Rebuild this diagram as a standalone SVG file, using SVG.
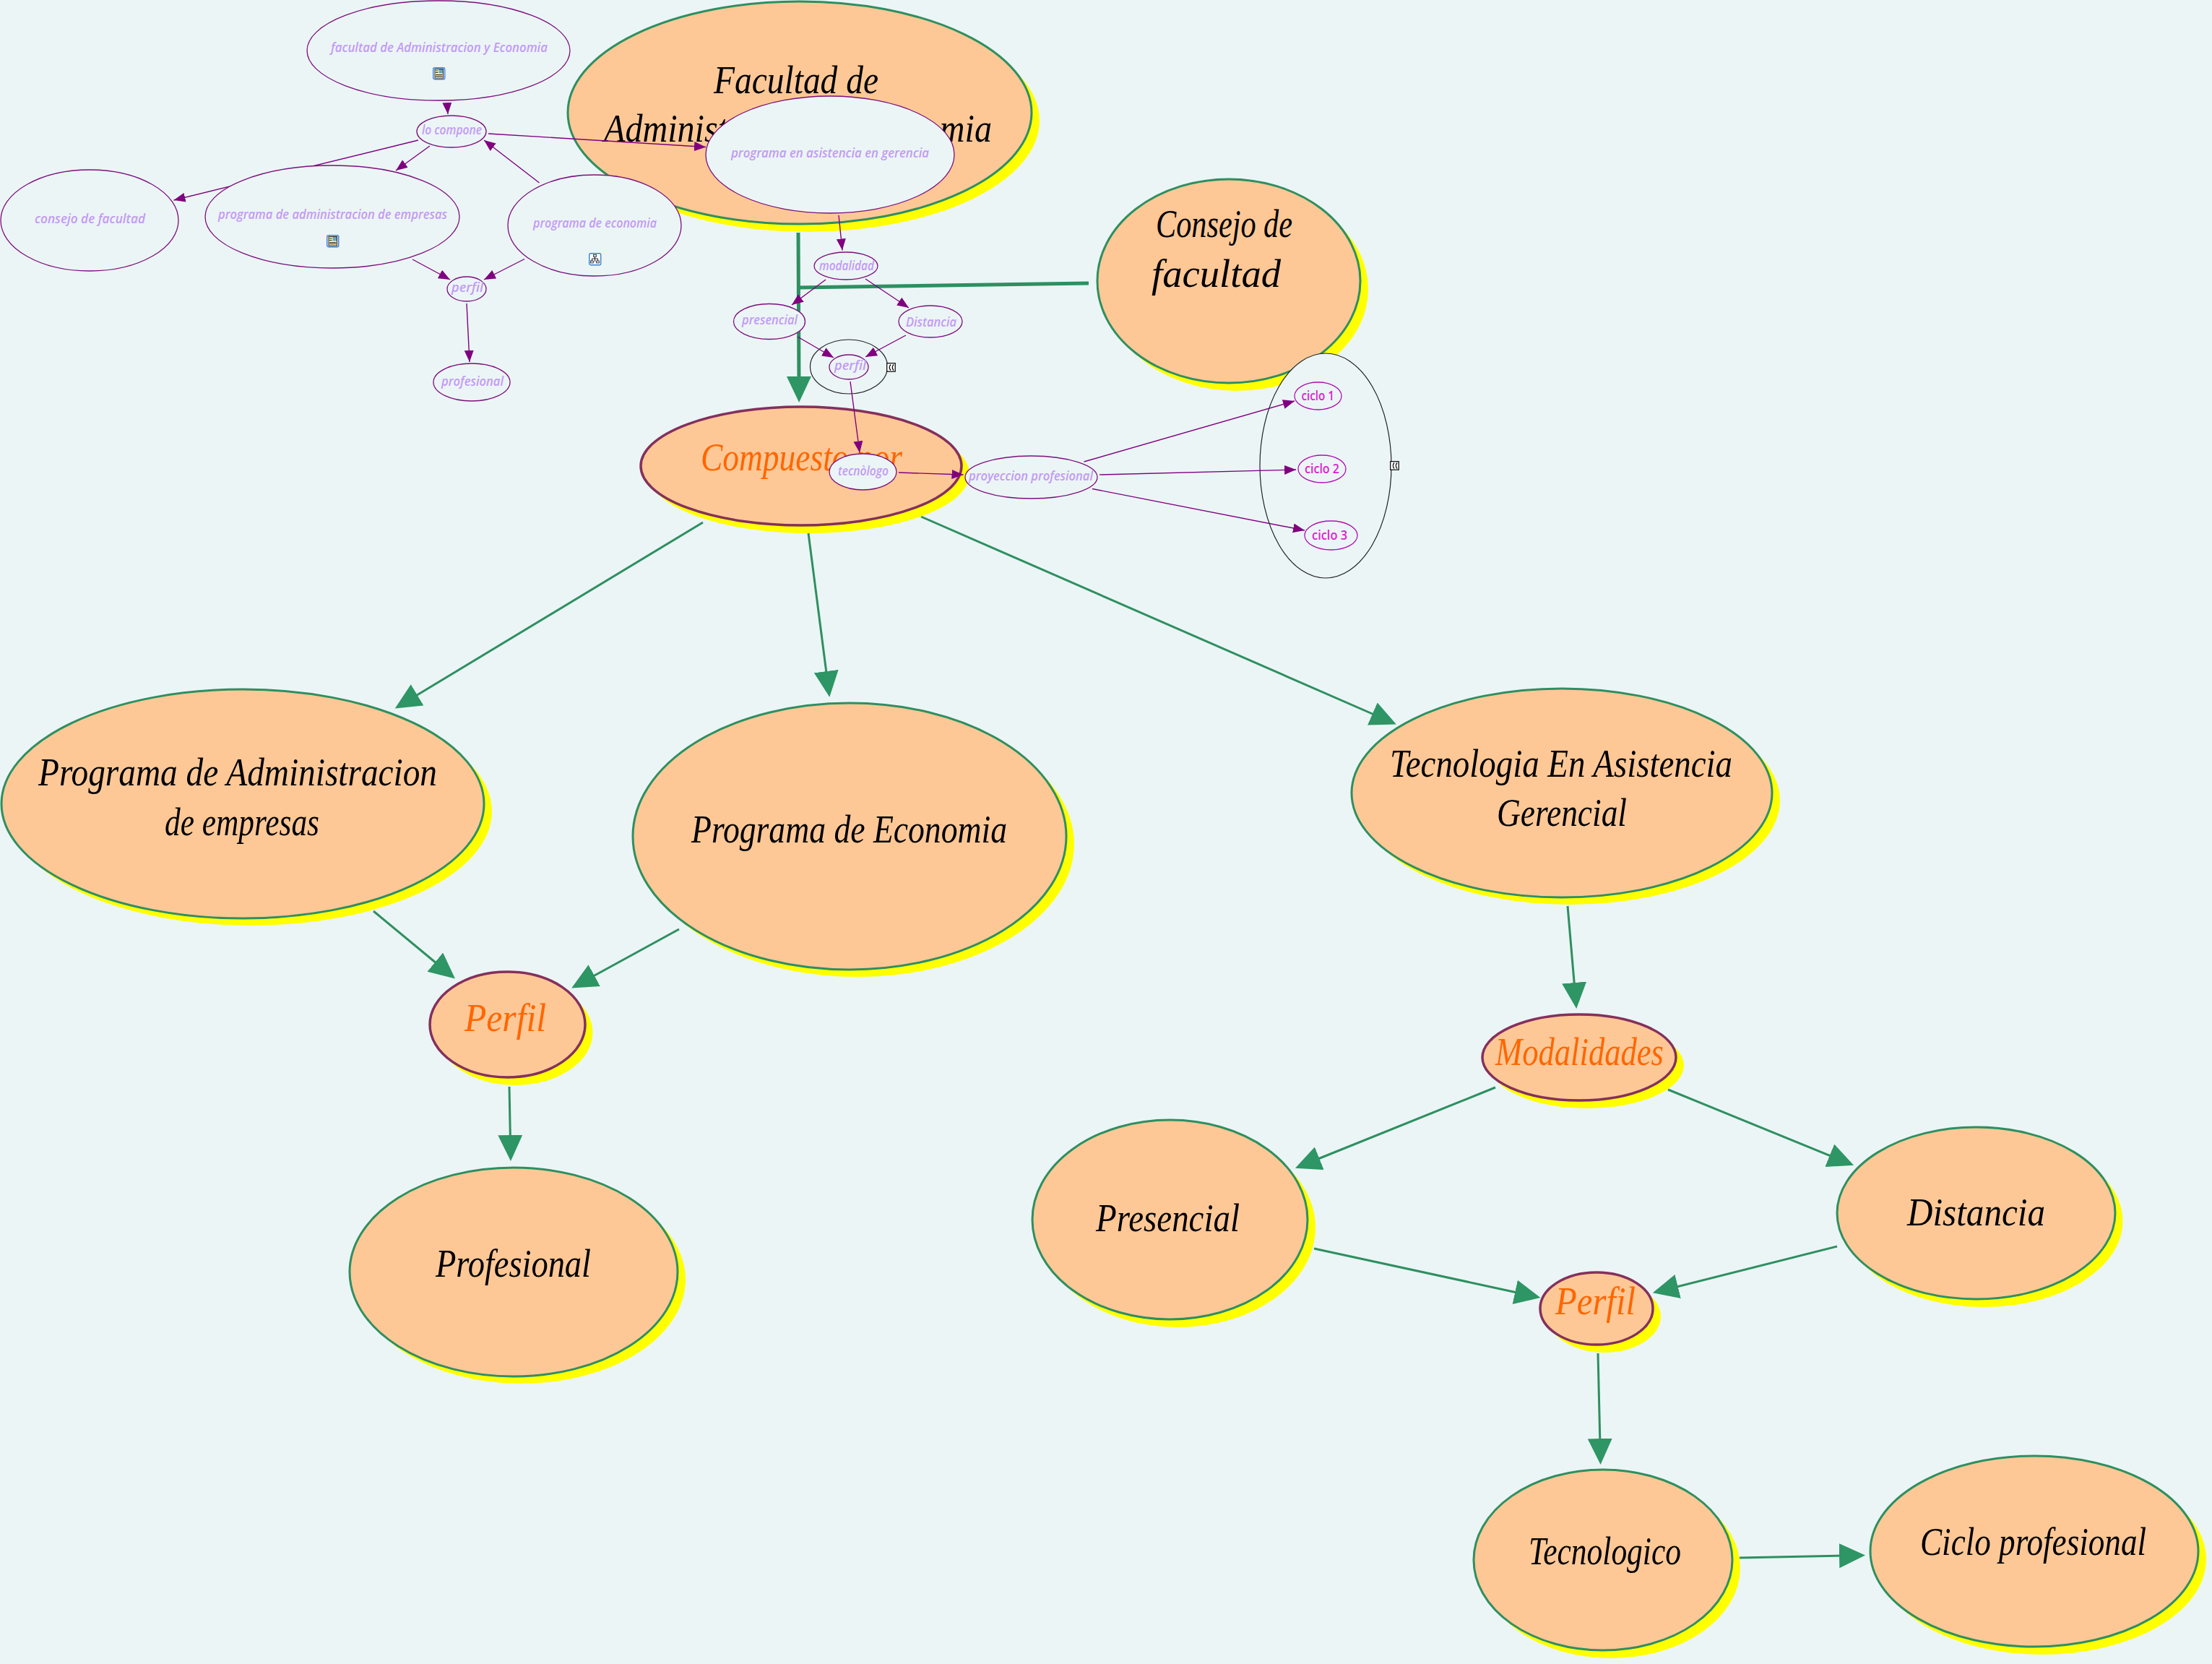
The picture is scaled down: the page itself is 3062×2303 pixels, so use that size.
<svg xmlns="http://www.w3.org/2000/svg" xmlns:xlink="http://www.w3.org/1999/xlink" width="3062" height="2303" viewBox="0 0 3062 2303">
<style>
.sh{fill:#ffff00;stroke:none}
.big{fill:#fdc896;stroke:#2e8f60;stroke-width:3}
.mid{fill:#fdc896;stroke:#84305c;stroke-width:3.5}
.small{fill:#ebf5f6;stroke:#7d0f7d;stroke-width:1.3}
.cy{fill:#ebf5f6;stroke:#b010b0;stroke-width:1.3}
.blk{fill:#ebf5f6;stroke:#222;stroke-width:1.2}
.g{stroke:#2e8f60;stroke-width:3;fill:none;marker-end:url(#ga)}
.p{stroke:#800080;stroke-width:1.4;fill:none;marker-end:url(#pa)}
.tb{font-family:"Liberation Serif",serif;font-style:italic;font-size:54px;fill:#000}
.to{font-family:"Liberation Serif",serif;font-style:italic;font-size:54px;fill:#ff6600}
.ts{font-family:"Open Sans","Noto Sans",sans-serif;font-style:italic;font-weight:600;font-size:18px;fill:#c39af5}
.tc{font-family:"Open Sans","Noto Sans",sans-serif;font-weight:600;font-size:18px;fill:#e020d0}
</style>
<defs>
<marker id="ga" markerUnits="userSpaceOnUse" markerWidth="40" markerHeight="36" refX="10" refY="17" orient="auto"><path d="M0 0L36 17L0 34Z" fill="#2e9565"/></marker>
<marker id="pa" markerUnits="userSpaceOnUse" markerWidth="18" markerHeight="14" refX="16" refY="6.5" orient="auto"><path d="M0 0L16 6.5L0 13Z" fill="#800080"/></marker>
<g id="icoDoc"><rect x="0.7" y="0.7" width="16" height="16" rx="2" fill="#fff" stroke="#3a80d0" stroke-width="1.4"/><rect x="3" y="2.5" width="11.5" height="12.5" fill="#fff8b0" stroke="#222" stroke-width="1"/><rect x="8.5" y="3" width="5.5" height="5.5" fill="#70a0c0"/><path d="M4 10.5H13.5M4 12.5H13.5M4 5H7.5M4 7.5H7.5" stroke="#222" stroke-width="1"/></g>
<g id="icoTree"><rect x="0.7" y="0.7" width="16" height="16" rx="2" fill="#fff" stroke="#3a80d0" stroke-width="1.4"/><path d="M8.5 5V8M4.5 12V8H12.5V12M8.5 8V12" stroke="#222" stroke-width="1" fill="none"/><rect x="6.5" y="2.5" width="4" height="3" fill="#d0e0ff" stroke="#222" stroke-width=".8"/><rect x="2.5" y="11" width="4" height="3" fill="#d0e0ff" stroke="#222" stroke-width=".8"/><rect x="10.5" y="11" width="4" height="3" fill="#d0e0ff" stroke="#222" stroke-width=".8"/></g>
<g id="icoCol"><rect x="0.7" y="0.7" width="11.5" height="11.5" fill="#fff" stroke="#000" stroke-width="1.2"/><path d="M6 2.5Q2.5 6.5 6 10.5M10 2.5Q6.5 6.5 10 10.5" stroke="#000" stroke-width="1.2" fill="none"/></g>
</defs>
<rect width="3062" height="2303" fill="#ebf5f6"/>

<g id="green-connectors">
<path class="g" style="stroke-width:5" d="M1105 322L1106 531"/>
<path d="M1507 392L1105 398" stroke="#2e8f60" stroke-width="5" fill="none"/>
<path class="g" d="M973 723L569 967"/>
<path class="g" d="M1119 738L1145 939"/>
<path class="g" d="M1275 715L1909 992"/>
<path class="g" d="M2170 1254L2180 1370"/>
<path class="g" d="M2070 1505L1817 1607"/>
<path class="g" d="M2309 1508L2542 1603"/>
<path class="g" d="M1819 1728L2107 1790.5"/>
<path class="g" d="M2543 1725L2313 1783"/>
<path class="g" d="M2212 1873L2215 2001"/>
<path class="g" d="M2408 2156L2556 2153"/>
<path class="g" d="M517 1261L610 1338"/>
<path class="g" d="M940 1286L814 1355"/>
<path class="g" d="M705 1504L706.5 1581"/>
</g>

<g id="n-facultad-big"><ellipse class="sh" cx="1118" cy="167" rx="321" ry="154"/><ellipse class="big" cx="1107" cy="156" rx="321" ry="154"/>
<text class="tb" x="988" y="129" textLength="228" lengthAdjust="spacingAndGlyphs">Facultad de</text>
<text class="tb" x="836" y="196" textLength="537" lengthAdjust="spacingAndGlyphs">Administracion y Economia</text></g>
<g id="n-consejo-big"><ellipse class="sh" cx="1712" cy="400" rx="182" ry="141"/><ellipse class="big" cx="1701" cy="389" rx="182" ry="141"/>
<text class="tb" x="1600" y="328" textLength="189" lengthAdjust="spacingAndGlyphs">Consejo de</text>
<text class="tb" x="1594" y="397" textLength="179" lengthAdjust="spacingAndGlyphs">facultad</text></g>
<g id="n-compuesto"><ellipse class="sh" cx="1120" cy="656" rx="222" ry="82"/><ellipse class="mid" cx="1109" cy="645" rx="222" ry="82"/>
<text class="to" x="970" y="651" textLength="279" lengthAdjust="spacingAndGlyphs">Compuesto por</text></g>
<g id="n-admin"><ellipse class="sh" cx="347" cy="1123" rx="334" ry="158"/><ellipse class="big" cx="336" cy="1112.5" rx="334" ry="158.5"/>
<text class="tb" x="53" y="1087" textLength="552" lengthAdjust="spacingAndGlyphs">Programa de Administracion</text>
<text class="tb" x="228" y="1156" textLength="214" lengthAdjust="spacingAndGlyphs">de empresas</text></g>
<g id="n-economia"><ellipse class="sh" cx="1187" cy="1168" rx="300" ry="184"/><ellipse class="big" cx="1176" cy="1157.5" rx="300" ry="184.5"/>
<text class="tb" x="957" y="1166" textLength="437" lengthAdjust="spacingAndGlyphs">Programa de Economia</text></g>
<g id="n-tecnologia"><ellipse class="sh" cx="2173" cy="1108" rx="291" ry="144"/><ellipse class="big" cx="2162" cy="1097.5" rx="291" ry="144.5"/>
<text class="tb" x="1924" y="1075" textLength="474" lengthAdjust="spacingAndGlyphs">Tecnologia En Asistencia</text>
<text class="tb" x="2072" y="1143" textLength="180" lengthAdjust="spacingAndGlyphs">Gerencial</text></g>
<g id="n-perfil-a"><ellipse class="sh" cx="713" cy="1429" rx="107.5" ry="73"/><ellipse class="mid" cx="702.5" cy="1418" rx="107.5" ry="73"/>
<text class="to" x="643" y="1427" textLength="113" lengthAdjust="spacingAndGlyphs">Perfil</text></g>
<g id="n-profesional"><ellipse class="sh" cx="722" cy="1771" rx="227" ry="144"/><ellipse class="big" cx="711" cy="1760.5" rx="227" ry="144.5"/>
<text class="tb" x="603" y="1767" textLength="215" lengthAdjust="spacingAndGlyphs">Profesional</text></g>
<g id="n-modalidades"><ellipse class="sh" cx="2197" cy="1474.5" rx="134" ry="59.5"/><ellipse class="mid" cx="2186" cy="1463.5" rx="134" ry="59.5"/>
<text class="to" x="2070" y="1474" textLength="233" lengthAdjust="spacingAndGlyphs">Modalidades</text></g>
<g id="n-presencial"><ellipse class="sh" cx="1630.5" cy="1699" rx="190.5" ry="138"/><ellipse class="big" cx="1619.5" cy="1688" rx="190.5" ry="138"/>
<text class="tb" x="1517" y="1704" textLength="199" lengthAdjust="spacingAndGlyphs">Presencial</text></g>
<g id="n-distancia"><ellipse class="sh" cx="2746" cy="1690" rx="192.5" ry="119"/><ellipse class="big" cx="2735.5" cy="1679" rx="192.5" ry="119"/>
<text class="tb" x="2640" y="1696" textLength="191" lengthAdjust="spacingAndGlyphs">Distancia</text></g>
<g id="n-perfil-b"><ellipse class="sh" cx="2221" cy="1822" rx="78" ry="50"/><ellipse class="mid" cx="2210" cy="1811" rx="78" ry="50"/>
<text class="to" x="2153" y="1819" textLength="111" lengthAdjust="spacingAndGlyphs">Perfil</text></g>
<g id="n-tecnologico"><ellipse class="sh" cx="2230" cy="2170" rx="179" ry="125"/><ellipse class="big" cx="2219" cy="2159" rx="179" ry="125"/>
<text class="tb" x="2116" y="2165" textLength="211" lengthAdjust="spacingAndGlyphs">Tecnologico</text></g>
<g id="n-ciclo"><ellipse class="sh" cx="2827" cy="2158" rx="227" ry="132"/><ellipse class="big" cx="2816" cy="2147" rx="227" ry="132"/>
<text class="tb" x="2658" y="2152" textLength="313" lengthAdjust="spacingAndGlyphs">Ciclo profesional</text></g>

<g id="group-perfil"><ellipse class="blk" cx="1175" cy="507.5" rx="53.5" ry="37.5"/><use xlink:href="#icoCol" href="#icoCol" x="1227" y="502"/></g>
<g id="group-ciclos"><ellipse class="blk" cx="1835" cy="644.5" rx="91" ry="155.5"/><use xlink:href="#icoCol" href="#icoCol" x="1924" y="638"/></g>

<g id="purple-connectors">
<path class="p" d="M619 144L620 158"/>
<path class="p" d="M579 194L240.5 277"/>
<path class="p" d="M595 202L548 236"/>
<path class="p" d="M746.5 253L670 194"/>
<path class="p" d="M676 185L977 203.5"/>
<path class="p" d="M571 359L623 387"/>
<path class="p" d="M726 358.5L670 387"/>
<path class="p" d="M646 420L650 501"/>
<path class="p" d="M1161 298L1166 346.5"/>
<path class="p" d="M1143 387L1096 422"/>
<path class="p" d="M1198 386L1258 426"/>
<path class="p" d="M1104 466L1154 495"/>
<path class="p" d="M1254 464L1198 494"/>
<path class="p" d="M1177 528L1190 626.5"/>
<path class="p" d="M1244 654L1333.5 657"/>
<path class="p" d="M1500.5 639L1792 555"/>
<path class="p" d="M1522 657L1794 650"/>
<path class="p" d="M1512 676.5L1806 734"/>
</g>

<g id="n1"><ellipse class="small" cx="607" cy="70" rx="182" ry="69"/><text class="ts" x="458" y="72" textLength="300" lengthAdjust="spacingAndGlyphs">facultad de Administracion y Economia</text><use xlink:href="#icoDoc" href="#icoDoc" x="599" y="93"/></g>
<g id="n2"><ellipse class="small" cx="625" cy="182" rx="48" ry="22"/><text class="ts" x="584" y="186" textLength="83" lengthAdjust="spacingAndGlyphs">lo compone</text></g>
<g id="n3"><ellipse class="small" cx="124" cy="305" rx="123" ry="70"/><text class="ts" x="48" y="309" textLength="153" lengthAdjust="spacingAndGlyphs">consejo de facultad</text></g>
<g id="n4"><ellipse class="small" cx="460" cy="300" rx="176" ry="71"/><text class="ts" x="302" y="303" textLength="317" lengthAdjust="spacingAndGlyphs">programa de administracion de empresas</text><use xlink:href="#icoDoc" href="#icoDoc" x="452" y="325"/></g>
<g id="n5"><ellipse class="small" cx="823" cy="312" rx="120" ry="70"/><text class="ts" x="738" y="315" textLength="171" lengthAdjust="spacingAndGlyphs">programa de economia</text><use xlink:href="#icoTree" href="#icoTree" x="815" y="350"/></g>
<g id="n6"><ellipse class="small" cx="646" cy="400" rx="27" ry="17"/><text class="ts" x="625" y="404" textLength="44" lengthAdjust="spacingAndGlyphs">perfil</text></g>
<g id="n7"><ellipse class="small" cx="653" cy="529" rx="53" ry="26"/><text class="ts" x="611" y="533.5" textLength="86" lengthAdjust="spacingAndGlyphs">profesional</text></g>
<g id="n8"><ellipse class="small" cx="1149" cy="214" rx="172" ry="81"/><text class="ts" x="1012" y="218" textLength="274" lengthAdjust="spacingAndGlyphs">programa en asistencia en gerencia</text></g>
<g id="n9"><ellipse class="small" cx="1171" cy="368" rx="44" ry="19"/><text class="ts" x="1134" y="373.6" textLength="76" lengthAdjust="spacingAndGlyphs">modalidad</text></g>
<g id="n10"><ellipse class="small" cx="1065" cy="445" rx="49.5" ry="24.5"/><text class="ts" x="1027" y="449" textLength="77" lengthAdjust="spacingAndGlyphs">presencial</text></g>
<g id="n11"><ellipse class="small" cx="1288" cy="445" rx="44" ry="22"/><text class="ts" x="1254" y="451.6" textLength="70" lengthAdjust="spacingAndGlyphs">Distancia</text></g>
<g id="n12"><ellipse class="small" cx="1175" cy="508" rx="27" ry="17"/><text class="ts" x="1155" y="512" textLength="44" lengthAdjust="spacingAndGlyphs">perfil</text></g>
<g id="n13"><ellipse class="small" cx="1194.5" cy="653" rx="46.5" ry="25"/><text class="ts" x="1160" y="658" textLength="70" lengthAdjust="spacingAndGlyphs">tecnòlogo</text></g>
<g id="n14"><ellipse class="small" cx="1427.5" cy="660.5" rx="91.5" ry="29.5"/><text class="ts" x="1341" y="665" textLength="172" lengthAdjust="spacingAndGlyphs">proyeccion profesional</text></g>
<g id="n15"><ellipse class="cy" cx="1824.5" cy="548" rx="32.5" ry="19"/><text class="tc" x="1801.5" y="554" textLength="45.5" lengthAdjust="spacingAndGlyphs">ciclo 1</text></g>
<g id="n16"><ellipse class="cy" cx="1830" cy="649" rx="33" ry="19"/><text class="tc" x="1806" y="655" textLength="48" lengthAdjust="spacingAndGlyphs">ciclo 2</text></g>
<g id="n17"><ellipse class="cy" cx="1842.5" cy="741" rx="36.5" ry="20"/><text class="tc" x="1816" y="747" textLength="49" lengthAdjust="spacingAndGlyphs">ciclo 3</text></g>
</svg>
